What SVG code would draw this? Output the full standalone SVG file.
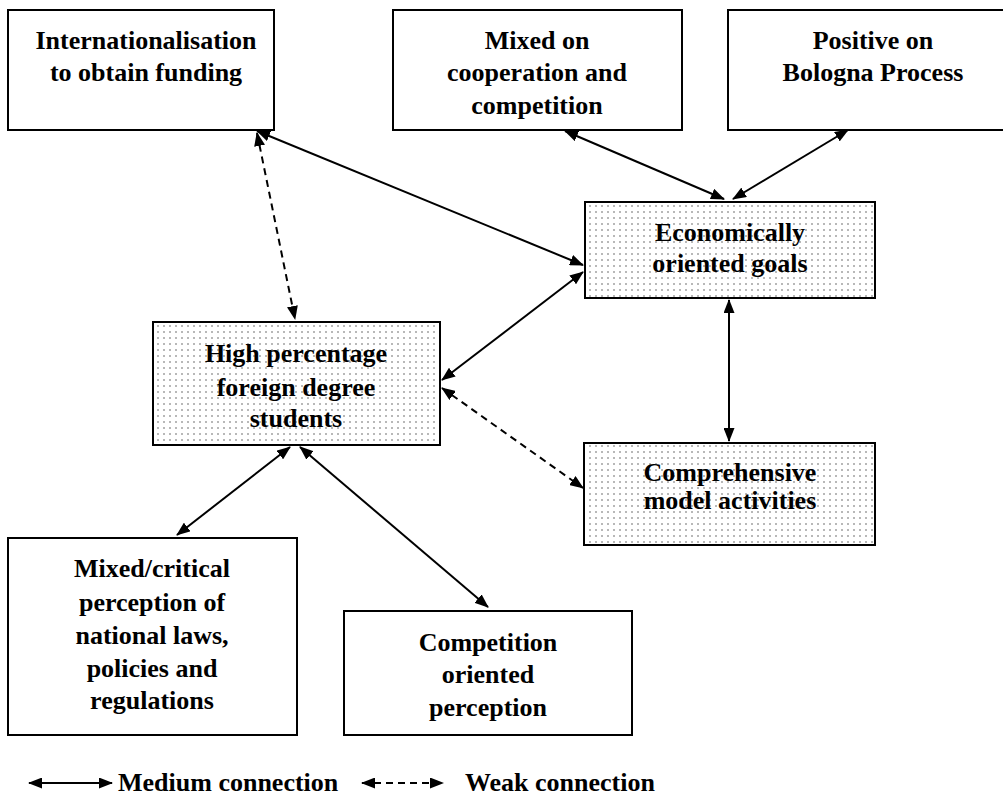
<svg xmlns="http://www.w3.org/2000/svg" width="1003" height="796" viewBox="0 0 1003 796">
  <style>
    .box { fill: #ffffff; stroke: #000000; stroke-width: 2; }
    .shaded { fill: url(#dots); stroke: #000000; stroke-width: 2; }
    .lbl { font-family: "Liberation Serif", "Times New Roman", serif; font-weight: bold; font-size: 26px; fill: #000000; text-anchor: middle; }
    .leg { font-family: "Liberation Serif", "Times New Roman", serif; font-weight: bold; font-size: 26px; fill: #000000; }
    .solid { stroke: #000000; stroke-width: 2; fill: none; marker-start: url(#head); marker-end: url(#head); }
    .dashed { stroke: #000000; stroke-width: 2; fill: none; stroke-dasharray: 7 5; marker-start: url(#head); marker-end: url(#head); }
  </style>
  <defs>
    <pattern id="dots" width="6" height="6" patternUnits="userSpaceOnUse">
      <rect width="6" height="6" fill="#ffffff"/>
      <rect x="1" y="1" width="2" height="2" fill="#b8b8b8"/>
    </pattern>
    <marker id="head" viewBox="0 0 14 11" refX="13" refY="5.5" markerWidth="14" markerHeight="11" markerUnits="userSpaceOnUse" orient="auto-start-reverse">
      <path d="M0,0 L14,5.5 L0,11 z" fill="#000000"/>
    </marker>
  </defs>

  <!-- nodes -->
  <g id="funding">
    <rect class="box" x="8" y="10" width="266" height="120"/>
    <text class="lbl" x="146" y="49">Internationalisation</text>
    <text class="lbl" x="146" y="81">to obtain funding</text>
  </g>
  <g id="cooperation">
    <rect class="box" x="393" y="10" width="289" height="120"/>
    <text class="lbl" x="537" y="49">Mixed on</text>
    <text class="lbl" x="537" y="81">cooperation and</text>
    <text class="lbl" x="537" y="114">competition</text>
  </g>
  <g id="bologna">
    <rect class="box" x="728" y="10" width="290" height="120"/>
    <text class="lbl" x="873" y="49">Positive on</text>
    <text class="lbl" x="873" y="81">Bologna Process</text>
  </g>
  <g id="economic">
    <rect class="shaded" x="585" y="202" width="290" height="96"/>
    <text class="lbl" x="730" y="241">Economically</text>
    <text class="lbl" x="730" y="272">oriented goals</text>
  </g>
  <g id="foreign">
    <rect class="shaded" x="153" y="322" width="287" height="123"/>
    <text class="lbl" x="296" y="362">High percentage</text>
    <text class="lbl" x="296" y="396">foreign degree</text>
    <text class="lbl" x="296" y="427">students</text>
  </g>
  <g id="comprehensive">
    <rect class="shaded" x="584" y="443" width="291" height="102"/>
    <text class="lbl" x="730" y="481">Comprehensive</text>
    <text class="lbl" x="730" y="509">model activities</text>
  </g>
  <g id="laws">
    <rect class="box" x="8" y="538" width="289" height="197"/>
    <text class="lbl" x="152" y="577">Mixed/critical</text>
    <text class="lbl" x="152" y="611">perception of</text>
    <text class="lbl" x="152" y="644">national laws,</text>
    <text class="lbl" x="152" y="677">policies and</text>
    <text class="lbl" x="152" y="709">regulations</text>
  </g>
  <g id="competition">
    <rect class="box" x="344" y="611" width="288" height="124"/>
    <text class="lbl" x="488" y="651">Competition</text>
    <text class="lbl" x="488" y="683">oriented</text>
    <text class="lbl" x="488" y="716">perception</text>
  </g>

  <!-- connectors -->
  <g id="connectors">
    <line class="solid" x1="257" y1="131" x2="583" y2="265"/>
    <line class="dashed" x1="257" y1="133" x2="295" y2="319"/>
    <line class="solid" x1="565" y1="131" x2="724" y2="199"/>
    <line class="solid" x1="848" y1="130" x2="733" y2="199"/>
    <line class="solid" x1="583" y1="272" x2="442" y2="380"/>
    <line class="solid" x1="729" y1="300" x2="729" y2="441"/>
    <line class="dashed" x1="442" y1="388" x2="583" y2="488"/>
    <line class="solid" x1="290" y1="447" x2="177" y2="535"/>
    <line class="solid" x1="300" y1="447" x2="488" y2="607"/>
  </g>

  <!-- legend -->
  <g id="legend">
    <line class="solid" x1="29" y1="783" x2="112" y2="783"/>
    <text class="leg" x="118" y="791">Medium connection</text>
    <line class="dashed" x1="362" y1="783" x2="443" y2="783"/>
    <text class="leg" x="465" y="791">Weak connection</text>
  </g>
</svg>
